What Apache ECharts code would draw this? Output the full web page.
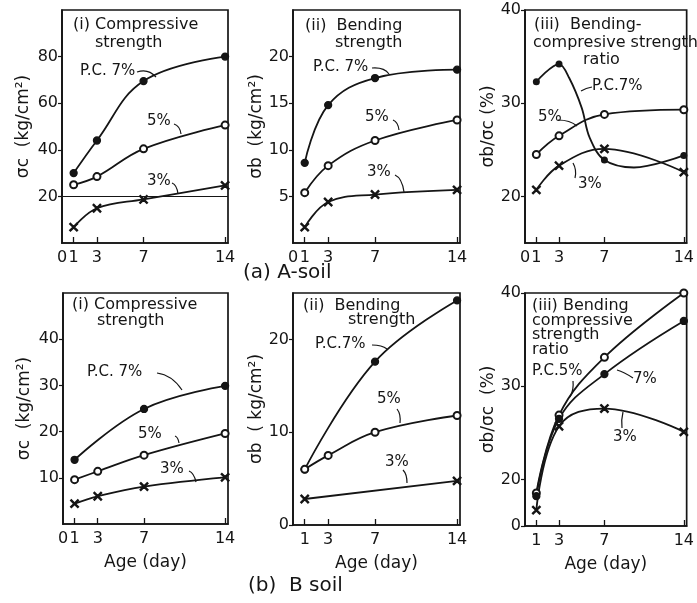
<!DOCTYPE html>
<html>
<head>
<meta charset="utf-8">
<script src="https://cdn.jsdelivr.net/npm/echarts@6/dist/echarts.min.js"></script>
<style>
html,body{margin:0;padding:0;background:#fff;}
#chart{width:697px;height:603px;}
</style>
</head>
<body>
<div id="chart"></div>
<script>
// age (day)
const days = [1, 3, 7, 14];
const tickDays = [1, 3, 7, 14];
const labelDaysWithZero = [0, 1, 3, 7, 14];

// (a) A-soil
const aCompPC7 = [30, 44, 69.5, 80];
const aComp5 = [25, 28.5, 40.4, 50.6];
const aComp3 = [6.8, 14.9, 18.7, 24.7];
const aBendPC7 = [8.6, 14.8, 17.7, 18.6];
const aBend5 = [5.4, 8.3, 11.0, 13.2];
const aBend3 = [1.7, 4.4, 5.2, 5.7];
const aRatioPC7 = [32.3, 34.2, 23.9, 24.4];
const aRatio5 = [24.5, 26.5, 28.8, 29.3];
const aRatio3 = [20.7, 23.3, 25.1, 22.6];
// PC 7% ratio line
const aRatioPC7CurveDays = [1, 3, 3.9, 5, 5.7, 7, 9.6, 14];
const aRatioPC7Curve = [32.3, 34.2, 32.7, 29.5, 26.3, 23.9, 23.1, 24.4];

// (b) B soil
const bCompPC7 = [13.9, null, 24.9, 29.9];
const bComp5 = [9.6, 11.4, 14.9, 19.6];
const bComp3 = [4.4, 6.0, 8.1, 10.1];
const bBendPC7 = [6.0, null, 17.6, 24.2];
const bBend5 = [6.0, 7.5, 10.0, 11.8];
const bBend3 = [2.8, null, null, 4.75];
const bRatio5 = [18.55, 26.9, 33.1, 40.0];
const bRatio7 = [18.2, 26.5, 31.3, 37.0];
const bRatio3 = [16.7, 25.7, 27.6, 25.1];

// y tick labels
const aCompTicks = [20, 40, 60, 80];
const aBendTicks = [5, 10, 15, 20];
const aRatioTicks = [20, 30, 40];
const bCompTicks = [10, 20, 30, 40];
const bBendTicks = [0, 10, 20];
const bRatioTicks = [15, 20, 30, 40]; // bottom of broken axis is labelled 0

const FONT = '"DejaVu Sans", sans-serif';
const INK = '#151515';
const CROSS = 'path://M1,0L5,4L9,0L10,1L6,5L10,9L9,10L5,6L1,10L0,9L4,5L0,1Z';

const chart = echarts.init(document.getElementById('chart'));

const grids = [
    {left: 62, top: 10, width: 166, height: 233},
    {left: 293, top: 10, width: 167, height: 233},
    {left: 525, top: 10, width: 164, height: 233},
    {left: 63, top: 293, width: 165, height: 231},
    {left: 293, top: 293, width: 167, height: 232},
    {left: 525, top: 293, width: 164, height: 233}
].map(g => Object.assign(g, {show: true, borderColor: INK, borderWidth: 1.7, backgroundColor: 'transparent'}));

function xAx(i, labels, name) {
    return {
        type: 'value', gridIndex: i, min: 0, max: 14.25,
        name: name || '', nameLocation: 'middle', nameGap: 30,
        nameTextStyle: {fontFamily: FONT, fontSize: 17, color: INK},
        axisLine: {show: true, lineStyle: {color: INK, width: 1.7}},
        axisTick: {show: true, inside: true, length: 6, customValues: tickDays, lineStyle: {color: INK, width: 1.3}},
        axisLabel: {customValues: labels, fontFamily: FONT, fontSize: 16, color: INK, margin: 7},
        splitLine: {show: false}
    };
}
function yAx(i, min, max, ticks, name, gap, fmt) {
    return {
        type: 'value', gridIndex: i, min: min, max: max,
        name: name, nameLocation: 'middle', nameGap: gap, nameRotate: 90,
        nameTextStyle: {fontFamily: FONT, fontSize: 17, color: INK},
        axisLine: {show: true, lineStyle: {color: INK, width: 1.7}},
        axisTick: {show: true, length: 4, customValues: ticks, lineStyle: {color: INK, width: 1.2}},
        axisLabel: {customValues: ticks, fontFamily: FONT, fontSize: 16, color: INK, margin: 4,
            formatter: fmt || (v => String(v))},
        splitLine: {show: false}
    };
}

function pts(vals, xs) {
    xs = xs || days;
    return xs.map((d, k) => [d, vals[k]]).filter(p => p[1] != null);
}
const SYM = {
    pc: {symbol: 'circle', size: 7},
    open: {symbol: 'emptyCircle', size: 7},
    cross: {symbol: CROSS, size: 8}
};
function line(i, vals, kind, extra) {
    return Object.assign({
        type: 'line', xAxisIndex: i, yAxisIndex: i,
        data: pts(vals), smooth: 0.4, clip: false,
        symbol: SYM[kind].symbol, symbolSize: SYM[kind].size, showAllSymbol: true,
        lineStyle: {color: INK, width: 1.8},
        itemStyle: {color: INK, borderColor: INK, borderWidth: 1.3},
        emphasis: {disabled: true}, animation: false, z: 3
    }, extra || {});
}

const series = [
    line(0, aCompPC7, 'pc', {
        markLine: {silent: true, symbol: 'none', label: {show: false},
            lineStyle: {color: INK, width: 1.2, type: 'solid'}, data: [{yAxis: 20}]}
    }),
    line(0, aComp5, 'open'),
    line(0, aComp3, 'cross'),
    line(1, aBendPC7, 'pc'),
    line(1, aBend5, 'open'),
    line(1, aBend3, 'cross'),
    // PC 7% ratio: drawn curve and its measured points
    {type: 'line', xAxisIndex: 2, yAxisIndex: 2, data: pts(aRatioPC7Curve, aRatioPC7CurveDays),
        smooth: 0.35, showSymbol: false, lineStyle: {color: INK, width: 1.8}, animation: false, z: 2},
    {type: 'scatter', xAxisIndex: 2, yAxisIndex: 2, data: pts(aRatioPC7), symbol: 'circle', symbolSize: 7,
        itemStyle: {color: INK, opacity: 1}, emphasis: {disabled: true}, animation: false, z: 4},
    line(2, aRatio5, 'open'),
    line(2, aRatio3, 'cross'),
    line(3, bCompPC7, 'pc'),
    line(3, bComp5, 'open'),
    line(3, bComp3, 'cross'),
    line(4, bBendPC7, 'pc'),
    line(4, bBend5, 'open'),
    line(4, bBend3, 'cross'),
    line(5, bRatio5, 'open'),
    line(5, bRatio7, 'pc'),
    line(5, bRatio3, 'cross')
];

// annotation text: [left, top, text, fontSize]
const notes = [
    [73, 17, '(i) Compressive', 16], [95, 35, 'strength', 16],
    [305, 18, '(ii)  Bending', 16], [335, 35, 'strength', 16],
    [534, 17, '(iii)  Bending-', 16], [533, 35, 'compresive strength', 16], [583, 52, 'ratio', 16],
    [72, 297, '(i) Compressive', 16], [97, 313, 'strength', 16],
    [303, 298, '(ii)  Bending', 16], [348, 312, 'strength', 16],
    [532, 298, '(iii) Bending', 16], [532, 313, 'compressive', 16], [532, 327, 'strength', 16], [532, 342, 'ratio', 16],
    [80, 64, 'P.C. 7%', 15], [147, 114, '5%', 15], [147, 174, '3%', 15],
    [313, 60, 'P.C. 7%', 15], [365, 110, '5%', 15], [367, 165, '3%', 15],
    [592, 79, 'P.C.7%', 15], [538, 110, '5%', 15], [578, 177, '3%', 15],
    [87, 365, 'P.C. 7%', 15], [138, 427, '5%', 15], [160, 462, '3%', 15],
    [315, 337, 'P.C.7%', 15], [377, 392, '5%', 15], [385, 455, '3%', 15],
    [532, 364, 'P.C.5%', 15], [633, 372, '7%', 15], [613, 430, '3%', 15],
    [243, 263, '(a) A-soil', 20], [248, 576, '(b)  B soil', 20]
];
// leader lines: [x1, y1, cpx, cpy, x2, y2]
const leaders = [
    [137, 72, 148, 68, 156, 77], [174, 124, 180, 126, 181, 134], [172, 183, 177, 185, 178, 194],
    [372, 68, 384, 67, 389, 74], [393, 120, 398, 122, 399, 130], [395, 175, 402, 178, 404, 192],
    [592, 87, 586, 88, 581, 91], [558, 120, 570, 120, 577, 126], [575, 178, 577, 170, 573, 163],
    [157, 373, 172, 375, 182, 390], [175, 436, 178, 437, 179, 443], [189, 471, 194, 473, 196, 482],
    [372, 345, 382, 345, 387, 349], [397, 409, 401, 414, 400, 423], [403, 470, 407, 474, 407, 483],
    [573, 381, 574, 390, 570, 397], [633, 378, 624, 372, 617, 370], [622, 428, 621, 420, 623, 412]
];

const graphic = notes.map(n => ({
    type: 'text', left: n[0], top: n[1], silent: true,
    style: {text: n[2], font: n[3] + 'px ' + FONT, fill: INK}
})).concat(leaders.map(l => ({
    type: 'bezierCurve', silent: true,
    shape: {x1: l[0], y1: l[1], cpx1: l[2], cpy1: l[3], x2: l[4], y2: l[5]},
    style: {stroke: INK, lineWidth: 1.2, fill: null}
})));

const option = {
    backgroundColor: '#fff',
    animation: false,
    grid: grids,
    xAxis: [
        xAx(0, labelDaysWithZero),
        xAx(1, labelDaysWithZero),
        xAx(2, labelDaysWithZero),
        xAx(3, labelDaysWithZero, 'Age (day)'),
        xAx(4, tickDays, 'Age (day)'),
        xAx(5, tickDays, 'Age (day)')
    ],
    yAxis: [
        yAx(0, 0, 100, aCompTicks, 'σc  (kg/cm²)', 30),
        yAx(1, 0, 25, aBendTicks, 'σb  (kg/cm²)', 22),
        yAx(2, 15, 40, aRatioTicks, 'σb/σc (%)', 23),
        yAx(3, 0, 50, bCompTicks, 'σc  (kg/cm²)', 30),
        yAx(4, 0, 25, bBendTicks, 'σb  ( kg/cm²)', 22),
        yAx(5, 15, 40, bRatioTicks, 'σb/σc  (%)', 23, v => v === 15 ? '0' : String(v))
    ],
    series: series,
    graphic: graphic
};
chart.setOption(option);
</script>
</body>
</html>
